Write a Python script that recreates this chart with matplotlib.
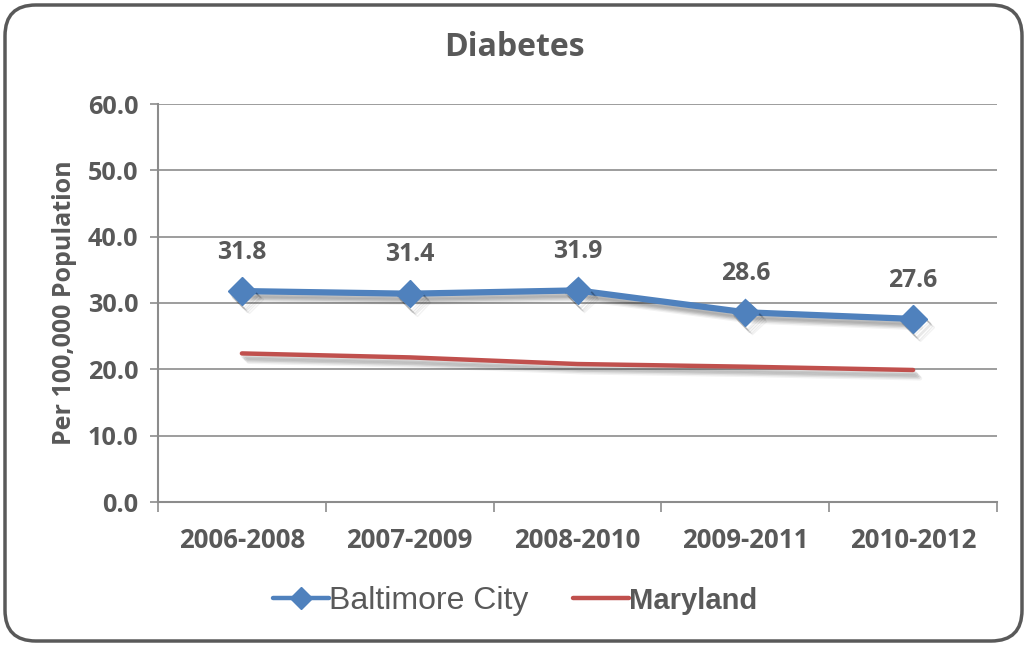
import matplotlib
matplotlib.use("Agg")
import matplotlib.pyplot as plt
import matplotlib.patheffects as pe
from matplotlib.patches import FancyBboxPatch

# =================================================
# DATA
# =================================================
periods = ["2006-2008", "2007-2009", "2008-2010", "2009-2011", "2010-2012"]
baltimore = [31.8, 31.4, 31.9, 28.6, 27.6]
maryland = [22.4, 21.8, 20.8, 20.4, 19.9]

TEXT = "#595959"
GRID = "#8c8c8c"
BLUE = "#4F81BD"
RED = "#C0504D"
FONT = "Open Sans"

# soft drop shadow: several stacked offsets fake the blur
def shadow():
    fx = []
    for dx, dy, a in [(5, -6, 0.05), (4, -5, 0.07), (3, -4, 0.09), (2, -3, 0.09), (1, -2, 0.06)]:
        fx.append(pe.SimpleLineShadow(offset=(dx, dy), shadow_color="black", alpha=a))
    fx.append(pe.Normal())
    return fx

fig = plt.figure(figsize=(10.27, 6.46), dpi=100)
ax = fig.add_axes([158 / 1027, 1 - 502 / 646, 839 / 1027, 398 / 646])

# rounded frame round the whole chart
frame = FancyBboxPatch((5 / 1027, 5 / 646), 1017 / 1027, 636 / 646,
                       boxstyle="round,pad=0,rounding_size=0.03",
                       transform=fig.transFigure, fill=False,
                       edgecolor="#595959", linewidth=2.5, zorder=0,
                       mutation_aspect=1027 / 646)
fig.patches.append(frame)

x = range(len(periods))
ax.plot(x, maryland, color=RED, lw=3.2, solid_capstyle="round",
        path_effects=shadow(), label="Maryland", zorder=3)
ax.plot(x, baltimore, color=BLUE, lw=4.5, marker="D", markersize=14,
        solid_capstyle="round", path_effects=shadow(), label="Baltimore City", zorder=4)

for i, v in enumerate(baltimore):
    ax.annotate(f"{v:.1f}", (i, v), xytext=(0, 28), textcoords="offset points",
                ha="center", va="center", fontsize=17.8, fontweight="bold",
                color=TEXT, family=FONT)

ax.set_xlim(-0.5, len(periods) - 0.5)
ax.set_ylim(0, 60)
ax.set_yticks(range(0, 61, 10))
ax.set_yticklabels([f"{t:.1f}" for t in range(0, 61, 10)])
ax.set_xticks(list(x))
ax.set_xticklabels(periods)
ax.set_xticks([i - 0.5 for i in range(len(periods) + 1)], minor=True)

ax.grid(axis="y", color=GRID, lw=1.2, zorder=0)
ax.set_axisbelow(True)
for s in ["top", "right"]:
    ax.spines[s].set_visible(False)
for s in ["left", "bottom"]:
    ax.spines[s].set_color(GRID)
    ax.spines[s].set_linewidth(1.5)

ax.tick_params(axis="y", length=6, color=GRID, width=1.2, pad=8)
ax.tick_params(axis="x", which="major", length=0, pad=18)
ax.tick_params(axis="x", which="minor", length=7, color=GRID, width=1.2)
for lbl in ax.get_yticklabels():
    lbl.set_fontsize(18.2)
for lbl in ax.get_xticklabels():
    lbl.set_fontsize(18.6)
for lbl in ax.get_xticklabels() + ax.get_yticklabels():
    lbl.set_fontweight("bold")
    lbl.set_color(TEXT)
    lbl.set_family(FONT)

ax.set_ylabel("Per 100,000 Population", fontsize=18, fontweight="bold",
              color=TEXT, family=FONT, labelpad=8)
fig.text(514 / 1027, 1 - 48 / 646, "Diabetes", ha="center", va="center",
         fontsize=23, fontweight="bold", color=TEXT, family=FONT)

handles, labels = ax.get_legend_handles_labels()
leg = fig.legend(handles[::-1], labels[::-1], loc="center", ncol=2,
                 bbox_to_anchor=(515 / 1027, 1 - 601 / 646), frameon=False,
                 handlelength=1.75, handletextpad=0.0, columnspacing=1.4,
                 prop={"family": "Liberation Sans", "size": 23})
for t in leg.get_texts():
    t.set_color(TEXT)
    if t.get_text() == "Maryland":
        t.set_fontweight("bold")
        t.set_fontsize(21)
for h in leg.legend_handles:
    h.set_path_effects([])
    h.set_linewidth(3.2)
    h.set_markersize(11)

fig.savefig("out.png", dpi=100)
